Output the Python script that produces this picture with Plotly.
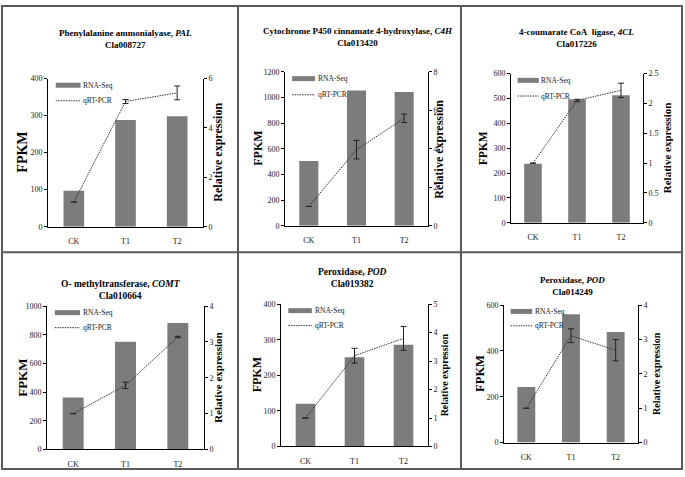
import plotly.graph_objects as go

categories = ['CK', 'T1', 'T2']

enzymes = [
    'Phenylalanine ammonialyase',
    'Cytochrome P450 cinnamate 4-hydroxylase',
    '4-coumarate CoA&nbsp; ligase',
    'O- methyltransferase',
    'Peroxidase',
    'Peroxidase',
]
gene_symbols = ['PAL', 'C4H', '4CL', 'COMT', 'POD', 'POD']
gene_ids = ['Cla008727', 'Cla013420', 'Cla017226', 'Cla010664', 'Cla019382', 'Cla014249']

# RNA-Seq (FPKM, bars)
fpkm_pal = [97, 288, 298]
fpkm_c4h = [505, 1054, 1042]
fpkm_4cl = [238, 497, 513]
fpkm_comt = [362, 752, 882]
fpkm_pod1 = [120, 251, 286]
fpkm_pod2 = [243, 560, 483]

# qRT-PCR (relative expression, dotted line) and error bars
rel_pal = [1.0, 5.07, 5.42]
err_pal = [None, 0.08, 0.28]
rel_c4h = [1.0, 3.95, 5.58]
err_c4h = [None, 0.48, 0.22]
rel_4cl = [1.0, 2.05, 2.22]
err_4cl = [None, 0.02, 0.12]
rel_comt = [1.0, 1.79, 3.14]
err_comt = [None, 0.09, 0.02]
rel_pod1 = [1.0, 3.19, 3.8]
err_pod1 = [None, 0.26, 0.42]
rel_pod2 = [1.0, 3.11, 2.69]
err_pod2 = [None, 0.2, 0.31]

fpkm_all = [fpkm_pal, fpkm_c4h, fpkm_4cl, fpkm_comt, fpkm_pod1, fpkm_pod2]
rel_all = [rel_pal, rel_c4h, rel_4cl, rel_comt, rel_pod1, rel_pod2]
err_all = [err_pal, err_c4h, err_4cl, err_comt, err_pod1, err_pod2]

# axis scales
left_max = [400, 1200, 600, 1000, 400, 600]
left_dtick = [100, 200, 100, 200, 100, 200]
right_max = [6, 8, 2.5, 4, 5, 4]
right_dtick = [2, 2, 0.5, 1, 1, 1]

W, H = 685, 477
SERIF = 'Liberation Serif, Times New Roman, serif'
BAR_COLOR = '#7c7c7c'

# plot areas in pixels: left, top, right, bottom
boxes = [
    (48, 76, 203, 227),
    (285, 69, 428, 226),
    (511, 71, 643, 223),
    (47, 308, 204, 454),
    (281, 306, 428, 451),
    (504, 307, 638, 447),
]
title_x = [125, 358, 576, 121, 352, 572]
title_y = [36, 33.5, 34.5, 292, 279.5, 287.5]
title_size = [9, 9, 9, 9.5, 9.5, 9]
fpkm_x = [23, 258, 483, 23, 257, 480]
fpkm_size = [14, 12, 11.5, 13, 12, 12.5]
rel_x = [218, 439, 667, 218, 444, 657]
rel_size = [12, 12, 11, 11, 10, 10]


def px(x):
    return x / W


def py(y):
    return 1 - y / H


fig = go.Figure()
layout = {}
annotations = []
shapes = []

for i in range(6):
    n = i + 1
    xa = 'x' if n == 1 else f'x{n}'
    yl_id = 2 * n - 1
    yr_id = 2 * n
    yl = 'y' if yl_id == 1 else f'y{yl_id}'
    yr = f'y{yr_id}'
    l, t, r, b = boxes[i]

    fig.add_trace(go.Bar(
        x=categories, y=fpkm_all[i], xaxis=xa, yaxis=yl,
        marker=dict(color=BAR_COLOR, line=dict(width=0)),
        width=0.4, showlegend=False, name='RNA-Seq',
    ))
    fig.add_trace(go.Scatter(
        x=categories, y=rel_all[i], xaxis=xa, yaxis=yr,
        mode='lines', line=dict(color='#333333', width=1, dash='1.5px,1px'),
        error_y=dict(type='data', array=err_all[i], color='#222222',
                     thickness=1, width=3),
        showlegend=False, name='qRT-PCR',
    ))

    tickfont = dict(family=SERIF, size=8, color='#222222')
    layout['xaxis' if n == 1 else f'xaxis{n}'] = dict(
        domain=[px(l), px(r)], anchor=yl, range=[-0.5, 2.5],
        showline=True, linecolor='black', linewidth=1, ticks='',
        ticklabelstandoff=7,
        showgrid=False, zeroline=False, tickfont=tickfont, fixedrange=True,
    )
    layout['yaxis' if yl_id == 1 else f'yaxis{yl_id}'] = dict(
        domain=[py(b), py(t)], anchor=xa, range=[0, left_max[i]],
        dtick=left_dtick[i], showline=True, linecolor='black', linewidth=1,
        ticks='outside', ticklen=3, tickcolor='black', showgrid=False,
        zeroline=False, tickfont=tickfont,
    )
    layout[f'yaxis{yr_id}'] = dict(
        overlaying=yl, side='right', anchor=xa, range=[0, right_max[i]],
        dtick=right_dtick[i], showline=True, linecolor='black', linewidth=1,
        ticks='outside', ticklen=3, tickcolor='black', showgrid=False,
        zeroline=False, tickfont=tickfont,
    )

    # panel title
    annotations.append(dict(
        x=px(title_x[i]), y=py(title_y[i]), xref='paper', yref='paper',
        text=f'<b>{enzymes[i]}, <i>{gene_symbols[i]}</i></b><br><b>{gene_ids[i]}</b>',
        showarrow=False, xanchor='center', yanchor='middle',
        font=dict(family=SERIF, size=title_size[i], color='black'),
    ))
    # axis titles
    annotations.append(dict(
        x=px(fpkm_x[i]), y=py((t + b) / 2), xref='paper', yref='paper',
        text='<b>FPKM</b>', textangle=-90, showarrow=False,
        xanchor='center', yanchor='middle',
        font=dict(family=SERIF, size=fpkm_size[i], color='black'),
    ))
    annotations.append(dict(
        x=px(rel_x[i]), y=py((t + b) / 2), xref='paper', yref='paper',
        text='<b>Relative expression</b>', textangle=-90, showarrow=False,
        xanchor='center', yanchor='middle',
        font=dict(family=SERIF, size=rel_size[i], color='black'),
    ))

    # legend inside each panel
    xd = f'{xa} domain'
    yd = f'{yl} domain'
    shapes.append(dict(type='line', xref=xd, yref=yd, x0=0.05, x1=0.21,
                       y0=0.955, y1=0.955, line=dict(color=BAR_COLOR, width=5)))
    shapes.append(dict(type='line', xref=xd, yref=yd, x0=0.05, x1=0.21,
                       y0=0.85, y1=0.85, line=dict(color='#333333', width=1, dash='1.5px,1px')))
    annotations.append(dict(x=0.215, y=0.955, xref=xd, yref=yd, text='RNA-Seq',
                            showarrow=False, xanchor='left', yanchor='middle',
                            font=dict(family=SERIF, size=7.5, color='#222222')))
    annotations.append(dict(x=0.215, y=0.85, xref=xd, yref=yd, text='qRT-PCR',
                            showarrow=False, xanchor='left', yanchor='middle',
                            font=dict(family=SERIF, size=7.5, color='#222222')))

# outer border and panel dividers
border = dict(color='#5a5a5a', width=2)
shapes.append(dict(type='rect', xref='paper', yref='paper',
                   x0=px(2), x1=px(682), y0=py(474), y1=py(2), line=border))
for vx in (238, 461):
    shapes.append(dict(type='line', xref='paper', yref='paper',
                       x0=px(vx), x1=px(vx), y0=py(474), y1=py(2), line=border))
shapes.append(dict(type='line', xref='paper', yref='paper',
                   x0=px(2), x1=px(682), y0=py(253), y1=py(253), line=border))

fig.update_layout(
    **layout,
    width=W, height=H,
    margin=dict(l=0, r=0, t=0, b=0),
    paper_bgcolor='white', plot_bgcolor='white',
    annotations=annotations, shapes=shapes,
    showlegend=False,
    font=dict(family=SERIF),
)

fig.write_html('out.html', config={'displayModeBar': False},
               post_script="document.body.style.margin='0';")
